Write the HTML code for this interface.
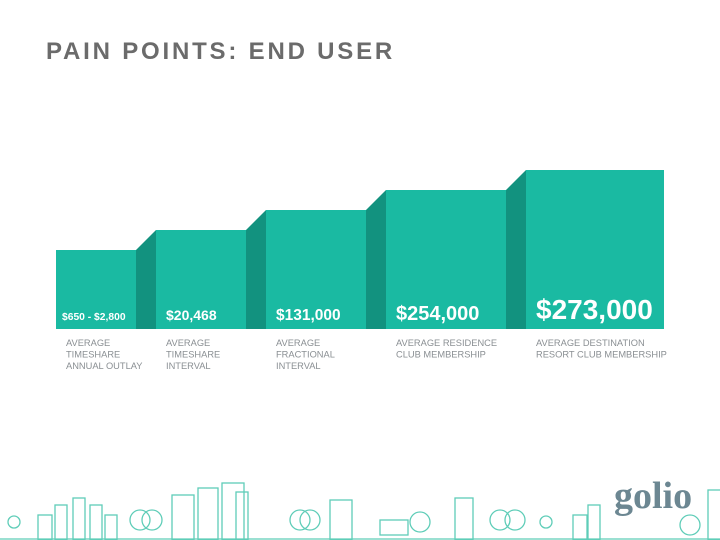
<!DOCTYPE html>
<html><head><meta charset="utf-8"><style>
body{margin:0;width:720px;height:540px;background:#fff;overflow:hidden;font-family:"Liberation Sans",sans-serif;position:relative}
#title{position:absolute;left:46px;top:38px;font-size:24px;font-weight:bold;letter-spacing:2.8px;color:#6b6b6b}
</style></head><body>
<div id="title">PAIN POINTS: END USER</div>
<svg id="chart" width="720" height="540" style="position:absolute;left:0;top:0"></svg>
<script>
const categories=[["AVERAGE","TIMESHARE","ANNUAL OUTLAY"],["AVERAGE","TIMESHARE","INTERVAL"],["AVERAGE","FRACTIONAL","INTERVAL"],["AVERAGE RESIDENCE","CLUB MEMBERSHIP"],["AVERAGE DESTINATION","RESORT CLUB MEMBERSHIP"]];
const valueLabels=["$650 - $2,800","$20,468","$131,000","$254,000","$273,000"];
const stepLevels=[1,2,3,4,5];
const ns="http://www.w3.org/2000/svg";
const svg=document.getElementById('chart');
const base=329, y=l=>270-20*l;
const xs=[56,156,266,386,526], ws=[80,90,100,120,138], fs=[10.3,14,15.5,20,28];
function mk(t,a){const e=document.createElementNS(ns,t);for(const k in a)e.setAttribute(k,a[k]);svg.appendChild(e);return e;}
stepLevels.forEach((l,i)=>{
  const top=y(l);
  const r=mk('rect',{x:xs[i],y:top,width:ws[i],height:base-top,fill:'#1abaa2'});
  
  
  if(i<stepLevels.length-1){
    const x1=xs[i]+ws[i], x2=xs[i+1], nt=y(stepLevels[i+1]);
    const p=mk('polygon',{points:`${x1},${top} ${x2},${nt} ${x2},${base} ${x1},${base}`,fill:'#12927f'});
    
    
  }
  const t=mk('text',{x:xs[i]+(i==0?6:10),y:base-9+(i==4?-1:0),fill:'#fff','font-size':fs[i],'font-weight':'bold','font-family':'Liberation Sans, sans-serif'});
  t.textContent=valueLabels[i];
  
  
  categories[i].forEach((line,j)=>{
    const c=mk('text',{x:xs[i]+10,y:346+j*11.5,fill:'#8a8f93','font-size':9.3,'font-family':'Liberation Sans, sans-serif'});
    c.textContent=line;
    
    
  });
});
// skyline decoration
const g=mk('g',{stroke:'#5fcdb8','stroke-width':1.3,fill:'none'});


const shapes=[[38,515,14,25],[55,505,12,35],[73,498,12,42],[90,505,12,35],[105,515,12,25],[172,495,22,45],[198,488,20,52],[222,483,22,57],[236,492,12,48],[330,500,22,40],[380,520,28,15],[455,498,18,42],[573,515,14,25],[588,505,12,35],[708,490,14,50]];
shapes.forEach(s=>{const r=document.createElementNS(ns,'rect');r.setAttribute('x',s[0]);r.setAttribute('y',s[1]);r.setAttribute('width',s[2]);r.setAttribute('height',s[3]);g.appendChild(r);});
[[140,520],[152,520],[300,520],[310,520],[420,522],[500,520],[515,520],[690,525]].forEach(c=>{const e=document.createElementNS(ns,'circle');e.setAttribute('cx',c[0]);e.setAttribute('cy',c[1]);e.setAttribute('r',10);g.appendChild(e);});
[[14,522],[546,522]].forEach(c=>{const e=document.createElementNS(ns,'circle');e.setAttribute('cx',c[0]);e.setAttribute('cy',c[1]);e.setAttribute('r',6);g.appendChild(e);});
const ln=document.createElementNS(ns,'line');ln.setAttribute('x1',0);ln.setAttribute('x2',720);ln.setAttribute('y1',539);ln.setAttribute('y2',539);g.appendChild(ln);
const logo=mk('text',{x:614,y:508,fill:'#6c8792','font-size':38,'font-weight':'bold','font-family':'Liberation Serif, serif'});
logo.textContent='golio';


</script>
</body></html>
